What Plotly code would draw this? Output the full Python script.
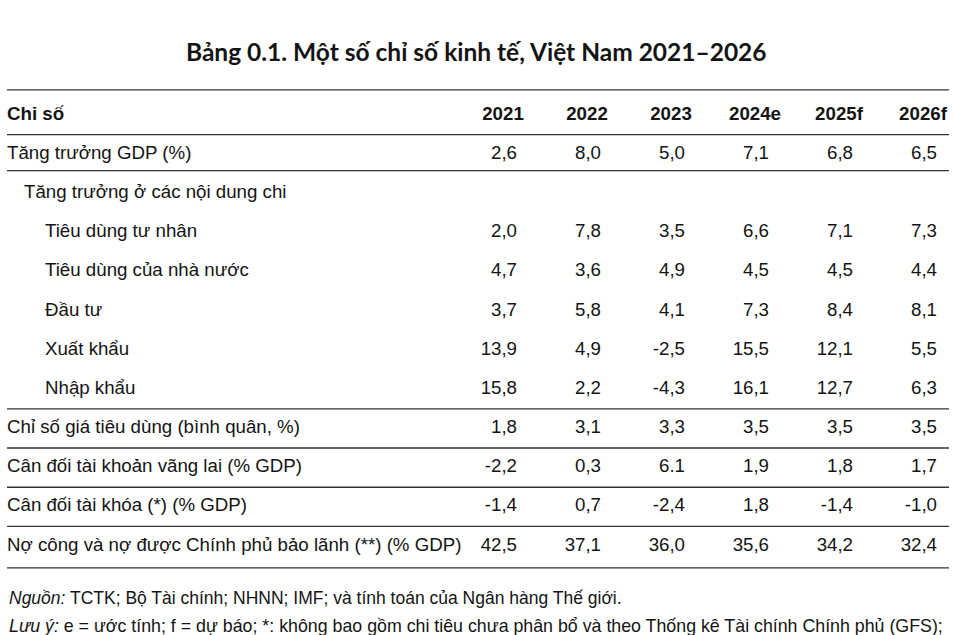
import plotly.graph_objects as go

# ---------------- data ----------------
TITLE = "Bảng 0.1. Một số chỉ số kinh tế, Việt Nam 2021–2026"
HEADER_LABEL = "Chỉ số"
YEARS = ["2021", "2022", "2023", "2024e", "2025f", "2026f"]
LABELS = [
    "Tăng trưởng GDP (%)",
    "Tăng trưởng ở các nội dung chi",
    "Tiêu dùng tư nhân",
    "Tiêu dùng của nhà nước",
    "Đầu tư",
    "Xuất khẩu",
    "Nhập khẩu",
    "Chỉ số giá tiêu dùng (bình quân, %)",
    "Cân đối tài khoản vãng lai (% GDP)",
    "Cân đối tài khóa (*) (% GDP)",
    "Nợ công và nợ được Chính phủ bảo lãnh (**) (% GDP)",
]
LEVELS = [0, 1, 2, 2, 2, 2, 2, 0, 0, 0, 0]
V2021 = ["2,6", "", "2,0", "4,7", "3,7", "13,9", "15,8", "1,8", "-2,2", "-1,4", "42,5"]
V2022 = ["8,0", "", "7,8", "3,6", "5,8", "4,9", "2,2", "3,1", "0,3", "0,7", "37,1"]
V2023 = ["5,0", "", "3,5", "4,9", "4,1", "-2,5", "-4,3", "3,3", "6.1", "-2,4", "36,0"]
V2024E = ["7,1", "", "6,6", "4,5", "7,3", "15,5", "16,1", "3,5", "1,9", "1,8", "35,6"]
V2025F = ["6,8", "", "7,1", "4,5", "8,4", "12,1", "12,7", "3,5", "1,8", "-1,4", "34,2"]
V2026F = ["6,5", "", "7,3", "4,4", "8,1", "5,5", "6,3", "3,5", "1,7", "-1,0", "32,4"]
COLUMNS = [V2021, V2022, V2023, V2024E, V2025F, V2026F]
# group separators: after header row, after GDP row, after the expenditure block, ...
SEP_AFTER = [0, 1, 7, 8, 9, 10]
NOTE_SOURCE = "<i>Nguồn:</i> TCTK; Bộ Tài chính; NHNN; IMF; và tính toán của Ngân hàng Thế giới."
NOTE_REMARK = ("<i>Lưu ý:</i> e = ước tính; f = dự báo; *: không bao gồm chi tiêu chưa phân bổ "
               "và theo Thống kê Tài chính Chính phủ (GFS);")

# ---------------- layout / style ----------------
W, H = 953, 635
FONT = "Liberation Sans, Arial, sans-serif"
TXT = "#141414"
LINE = "#333333"
FS = 18.7
# x axis in "column" units, y axis in "row" units
COL0_PX, COL_PITCH = 517, 84.0
ROW0_PX, ROW_PITCH = 115, 39.18
px2col = lambda p: (p - COL0_PX) / COL_PITCH
px2row = lambda p: (p - ROW0_PX) / ROW_PITCH
LEFT_PX, RIGHT_PX = 7, 949
INDENT_PX = [0, 17, 38]
HEADER_SHIFT = -14 / COL_PITCH
TOP_PAD, BOTTOM_PAD = 0.64, 0.56
SEP_NUDGE = {1: -0.08}  # the GDP rule sits slightly higher

fig = go.Figure()

nrows = len(LABELS)
row_idx = list(range(1, nrows + 1))

# header
fig.add_trace(go.Scatter(
    x=[px2col(LEFT_PX)], y=[0], mode="text", text=[f"<b>{HEADER_LABEL}</b>"],
    textposition="middle right", textfont=dict(family=FONT, size=FS, color=TXT),
    hoverinfo="skip", showlegend=False, cliponaxis=False))
fig.add_trace(go.Scatter(
    x=[i + HEADER_SHIFT for i in range(len(YEARS))], y=[0] * len(YEARS), mode="text",
    text=[f"<b>{y}</b>" for y in YEARS], textposition="middle center",
    textfont=dict(family=FONT, size=FS, color=TXT), hoverinfo="skip", showlegend=False,
    cliponaxis=False))

# row labels
for lvl in sorted(set(LEVELS)):
    ys = [r for r, l in zip(row_idx, LEVELS) if l == lvl]
    ts = [t for t, l in zip(LABELS, LEVELS) if l == lvl]
    fig.add_trace(go.Scatter(
        x=[px2col(LEFT_PX + INDENT_PX[lvl])] * len(ys), y=ys, mode="text", text=ts,
        textposition="middle right", textfont=dict(family=FONT, size=FS, color=TXT),
        hoverinfo="skip", showlegend=False, cliponaxis=False))

# values
for ci, col in enumerate(COLUMNS):
    fig.add_trace(go.Scatter(
        x=[ci] * nrows, y=row_idx, mode="text", text=col,
        textposition="middle left", textfont=dict(family=FONT, size=FS, color=TXT),
        hoverinfo="skip", showlegend=False, cliponaxis=False))

# rules
rule_rows = ([-TOP_PAD] + [r + 0.5 + SEP_NUDGE.get(r, 0) for r in SEP_AFTER]
             + [nrows + BOTTOM_PAD])
for yr in rule_rows:
    fig.add_shape(type="line", xref="x", yref="y",
                  x0=px2col(LEFT_PX), x1=px2col(RIGHT_PX), y0=yr, y1=yr,
                  line=dict(color=LINE, width=1.4))

# title & notes
fig.add_annotation(xref="paper", yref="paper", x=0.5, y=1 - 52 / H, text=f"<b>{TITLE}</b>",
                   showarrow=False, xanchor="center", yanchor="middle",
                   font=dict(family="Lato, Open Sans, sans-serif", size=24.5, color=TXT))
fig.add_annotation(xref="paper", yref="paper", x=LEFT_PX / W, y=1 - 598 / H, text=NOTE_SOURCE,
                   showarrow=False, xanchor="left", yanchor="middle",
                   font=dict(family=FONT, size=17.5, color=TXT))
fig.add_annotation(xref="paper", yref="paper", x=LEFT_PX / W, y=1 - 626 / H, text=NOTE_REMARK,
                   showarrow=False, xanchor="left", yanchor="middle",
                   font=dict(family=FONT, size=17.8, color=TXT))

fig.update_layout(
    width=W, height=H, margin=dict(l=0, r=0, t=0, b=0),
    paper_bgcolor="white", plot_bgcolor="white", showlegend=False,
    xaxis=dict(range=[px2col(0), px2col(W)], visible=False, fixedrange=True),
    yaxis=dict(range=[px2row(H), px2row(0)], visible=False, fixedrange=True),
)
fig.write_html("out.html", config={"displayModeBar": False},
               post_script="document.body.style.margin='0';document.body.style.overflow='hidden';")
